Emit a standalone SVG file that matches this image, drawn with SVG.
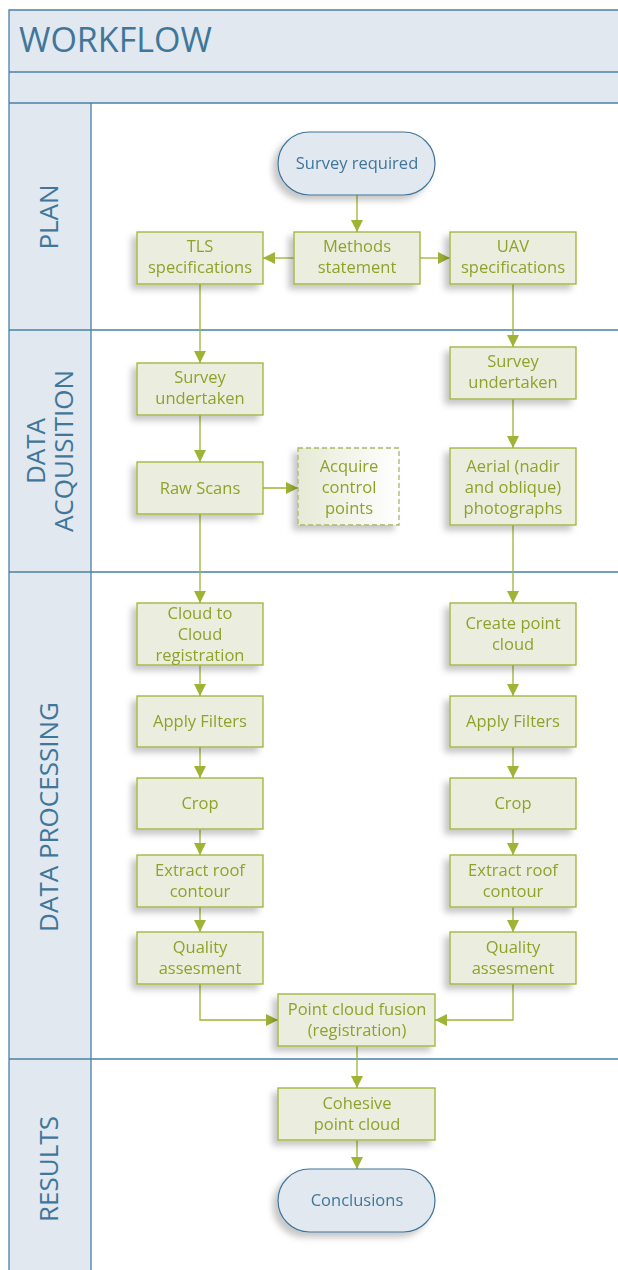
<svg xmlns="http://www.w3.org/2000/svg" width="618" height="1270" viewBox="0 0 618 1270">
<style>
.lanebg{fill:#e1e8ef;stroke:none}
.laneline{stroke:#4a80a6;stroke-width:1.3;fill:none}
.lanetxt{font-family:"Open Sans","Noto Sans",sans-serif;fill:#3f7699;font-size:26px;text-anchor:middle}
.title{font-family:"Open Sans","Noto Sans",sans-serif;fill:#3f7699;font-size:34px}
.box{fill:#ebeedf;stroke:#9db434;stroke-width:1.3}
.term{fill:#e1e8ef;stroke:#3e7399;stroke-width:1.2}
.dash{fill:url(#grad);stroke:#a7b968;stroke-width:1.3;stroke-dasharray:5,3}
.t{font-family:"Open Sans","Noto Sans",sans-serif;font-size:16.5px;fill:#8ea22a;text-anchor:middle}
.tb{font-family:"Open Sans","Noto Sans",sans-serif;font-size:16.5px;fill:#3f7699;text-anchor:middle}
.conn{stroke:#9db434;stroke-width:1.3;fill:none;marker-end:url(#arr)}
</style>
<defs>
<marker id="arr" markerWidth="12" markerHeight="12" refX="12" refY="6" orient="auto" markerUnits="userSpaceOnUse">
<path d="M0,0 L12,6 L0,12 Z" fill="#9db434"/>
</marker>
<linearGradient id="grad" x1="0" y1="0" x2="1" y2="0">
<stop offset="0" stop-color="#e6ead5"/>
<stop offset="1" stop-color="#ffffff"/>
</linearGradient>
<filter id="sh" x="-20%" y="-20%" width="140%" height="150%">
<feDropShadow dx="-5" dy="5" stdDeviation="3" flood-color="#000" flood-opacity="0.22"/>
</filter>
</defs>

<g id="frame">
<rect x="9" y="10" width="620" height="93" class="lanebg"/>
<rect x="9" y="103" width="82" height="1170" class="lanebg"/>
<path class="laneline" d="M618,10 H9 V1272 M9,72 H618 M9,103 H618 M9,330 H618 M9,572 H618 M9,1059 H618 M91,103 V1272"/>
<text class="title" x="19" y="52">WORKFLOW</text>
</g>

<g id="lane-plan"><text class="lanetxt" transform="translate(58,217) rotate(-90)">PLAN</text></g>
<g id="lane-acq"><text class="lanetxt" transform="translate(73,451) rotate(-90)"><tspan x="0" y="-28">DATA</tspan><tspan x="0" y="0">ACQUISITION</tspan></text></g>
<g id="lane-proc"><text class="lanetxt" transform="translate(58,817) rotate(-90)">DATA PROCESSING</text></g>
<g id="lane-res"><text class="lanetxt" transform="translate(58,1169) rotate(-90)">RESULTS</text></g>

<g id="connectors">
<path class="conn" d="M357,195 V232"/>
<path class="conn" d="M294,258 H263"/>
<path class="conn" d="M420,258 H450"/>
<path class="conn" d="M200,284 V363"/>
<path class="conn" d="M513,284 V347"/>
<path class="conn" d="M200,415 V462"/>
<path class="conn" d="M263,488 H298"/>
<path class="conn" d="M513,399 V448"/>
<path class="conn" d="M200,514 V603"/>
<path class="conn" d="M513,525 V603"/>
<path class="conn" d="M200,665 V696"/>
<path class="conn" d="M200,747 V778"/>
<path class="conn" d="M200,829 V855"/>
<path class="conn" d="M200,907 V932"/>
<path class="conn" d="M513,665 V696"/>
<path class="conn" d="M513,747 V778"/>
<path class="conn" d="M513,829 V855"/>
<path class="conn" d="M513,907 V932"/>
<path class="conn" d="M200,984 V1020 H278"/>
<path class="conn" d="M513,984 V1020 H435"/>
<path class="conn" d="M357,1046 V1088"/>
<path class="conn" d="M357,1140 V1169"/>
</g>

<g id="survey-required" filter="url(#sh)"><rect class="term" x="278" y="132" width="157" height="63" rx="31.5"/><text class="tb" x="357" y="169">Survey required</text></g>
<g id="methods" filter="url(#sh)"><rect class="box" x="294" y="232" width="126" height="52"/><text class="t" x="357" y="252">Methods</text><text class="t" x="357" y="273">statement</text></g>
<g id="tls-spec" filter="url(#sh)"><rect class="box" x="137" y="232" width="126" height="52"/><text class="t" x="200" y="252">TLS</text><text class="t" x="200" y="273">specifications</text></g>
<g id="uav-spec" filter="url(#sh)"><rect class="box" x="450" y="232" width="126" height="52"/><text class="t" x="513" y="252">UAV</text><text class="t" x="513" y="273">specifications</text></g>

<g id="survey-tls" filter="url(#sh)"><rect class="box" x="137" y="363" width="126" height="52"/><text class="t" x="200" y="383">Survey</text><text class="t" x="200" y="404">undertaken</text></g>
<g id="survey-uav" filter="url(#sh)"><rect class="box" x="450" y="347" width="126" height="52"/><text class="t" x="513" y="367">Survey</text><text class="t" x="513" y="388">undertaken</text></g>
<g id="raw-scans" filter="url(#sh)"><rect class="box" x="137" y="462" width="126" height="52"/><text class="t" x="200" y="494">Raw Scans</text></g>
<g id="acquire" filter="url(#sh)"><rect class="dash" x="298" y="448" width="101" height="77"/><text class="t" x="349" y="472">Acquire</text><text class="t" x="349" y="493">control</text><text class="t" x="349" y="514">points</text></g>
<g id="aerial" filter="url(#sh)"><rect class="box" x="450" y="448" width="126" height="77"/><text class="t" x="513" y="472">Aerial (nadir</text><text class="t" x="513" y="493">and oblique)</text><text class="t" x="513" y="514">photographs</text></g>

<g id="c2c" filter="url(#sh)"><rect class="box" x="137" y="603" width="126" height="62"/><text class="t" x="200" y="619">Cloud to</text><text class="t" x="200" y="640">Cloud</text><text class="t" x="200" y="661">registration</text></g>
<g id="create-pc" filter="url(#sh)"><rect class="box" x="450" y="603" width="126" height="62"/><text class="t" x="513" y="629">Create point</text><text class="t" x="513" y="650">cloud</text></g>
<g id="filters-l" filter="url(#sh)"><rect class="box" x="137" y="696" width="126" height="51"/><text class="t" x="200" y="727">Apply Filters</text></g>
<g id="filters-r" filter="url(#sh)"><rect class="box" x="450" y="696" width="126" height="51"/><text class="t" x="513" y="727">Apply Filters</text></g>
<g id="crop-l" filter="url(#sh)"><rect class="box" x="137" y="778" width="126" height="51"/><text class="t" x="200" y="809">Crop</text></g>
<g id="crop-r" filter="url(#sh)"><rect class="box" x="450" y="778" width="126" height="51"/><text class="t" x="513" y="809">Crop</text></g>
<g id="extract-l" filter="url(#sh)"><rect class="box" x="137" y="855" width="126" height="52"/><text class="t" x="200" y="876">Extract roof</text><text class="t" x="200" y="897">contour</text></g>
<g id="extract-r" filter="url(#sh)"><rect class="box" x="450" y="855" width="126" height="52"/><text class="t" x="513" y="876">Extract roof</text><text class="t" x="513" y="897">contour</text></g>
<g id="quality-l" filter="url(#sh)"><rect class="box" x="137" y="932" width="126" height="52"/><text class="t" x="200" y="953">Quality</text><text class="t" x="200" y="974">assesment</text></g>
<g id="quality-r" filter="url(#sh)"><rect class="box" x="450" y="932" width="126" height="52"/><text class="t" x="513" y="953">Quality</text><text class="t" x="513" y="974">assesment</text></g>
<g id="fusion" filter="url(#sh)"><rect class="box" x="278" y="994" width="157" height="52"/><text class="t" x="357" y="1015">Point cloud fusion</text><text class="t" x="357" y="1036">(registration)</text></g>
<g id="cohesive" filter="url(#sh)"><rect class="box" x="278" y="1088" width="157" height="52"/><text class="t" x="357" y="1109">Cohesive</text><text class="t" x="357" y="1130">point cloud</text></g>
<g id="conclusions" filter="url(#sh)"><rect class="term" x="278" y="1169" width="157" height="63" rx="31.5"/><text class="tb" x="357" y="1206">Conclusions</text></g>
</svg>
